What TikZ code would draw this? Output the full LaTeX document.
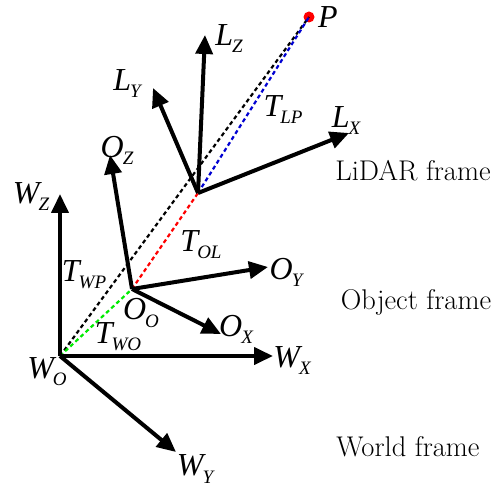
\documentclass[tikz,border=0pt]{standalone}
\usepackage{fontspec}
\newfontfamily\labfont{Liberation Serif}
\usetikzlibrary{arrows.meta}
\definecolor{dgreen}{RGB}{0,235,0}
\definecolor{dblue}{RGB}{0,0,210}
\definecolor{dred}{RGB}{255,0,0}
\newcommand\lab[2]{{\labfont\fontsize{32}{32}\selectfont\itshape #1\kern-1pt\raisebox{-0.22em}{\fontsize{19}{19}\selectfont #2}}}
\begin{document}
\begin{tikzpicture}[x=1pt,y=-1pt,
  axis/.style={line width=4pt,-{Triangle[length=19pt,width=17pt]}},
  dsh/.style={line width=2.2pt,dash pattern=on 4pt off 3pt},
  lbl/.style={inner sep=0pt},
  frm/.style={inner sep=0pt,font=\fontsize{28.5}{28.5}\selectfont}]
\useasboundingbox (0,0) rectangle (492,486);
% origins and tips
\coordinate (WO) at (60,356);
\coordinate (WZ) at (60,194);
\coordinate (WX) at (273,356);
\coordinate (WY) at (176,452);
\coordinate (OO) at (132,289);
\coordinate (OZ) at (110,155);
\coordinate (OY) at (268,267);
\coordinate (OX) at (221,334);
\coordinate (LO) at (198,193);
\coordinate (LZ) at (205,35);
\coordinate (LY) at (153,88);
\coordinate (LX) at (349,133);
\node[circle,fill=dred,inner sep=0pt,minimum size=11pt] (P) at (309,17) {};
% dashed transforms
\draw[dsh,black] (WO) -- (P.center);
\draw[dsh,dblue] (LO) -- (P.center);
\draw[dsh,dred] (OO) -- (LO);
\draw[dsh,dgreen] (WO) -- (OO);
% axes
\draw[axis] (WO) -- (WZ);
\draw[axis] (WO) -- (WX);
\draw[axis] (WO) -- (WY);
\draw[axis] (OO) -- (OZ);
\draw[axis] (OO) -- (OY);
\draw[axis] (OO) -- (OX);
\draw[axis] (LO) -- (LZ);
\draw[axis] (LO) -- (LY);
\draw[axis] (LO) -- (LX);
% labels
\node[lbl] (lP) at (328,17) {\labfont\fontsize{32}{32}\selectfont\itshape P};
\node[lbl] (lLZ) at (229,39) {\lab{L}{Z}};
\node[lbl] (lLY) at (127,84) {\lab{L}{Y}};
\node[lbl] (lLX) at (346,121) {\lab{L}{X}};
\node[lbl] (lTLP) at (283,110) {\lab{T}{LP}};
\node[lbl] (lOZ) at (117,150) {\lab{O}{Z}};
\node[lbl] (lWZ) at (31,197) {\lab{W}{Z}};
\node[lbl] (lTOL) at (201,245) {\lab{T}{OL}};
\node[lbl] (lOY) at (286,272) {\lab{O}{Y}};
\node[lbl] (lTWP) at (84,275) {\lab{T}{WP}};
\node[lbl] (lOO) at (141,313) {\lab{O}{O}};
\node[lbl] (lOX) at (236,329) {\lab{O}{X}};
\node[lbl] (lTWO) at (118,337) {\lab{T}{WO}};
\node[lbl] (lWO) at (47,372) {\lab{W}{O}};
\node[lbl] (lWX) at (292,361) {\lab{W}{X}};
\node[lbl] (lWY) at (195,469) {\lab{W}{Y}};
\node[frm] (fL) at (413,171) {LiDAR frame};
\node[frm] (fO) at (416,302) {Object frame};
\node[frm] (fW) at (408,447) {World frame};
\end{tikzpicture}
\end{document}
